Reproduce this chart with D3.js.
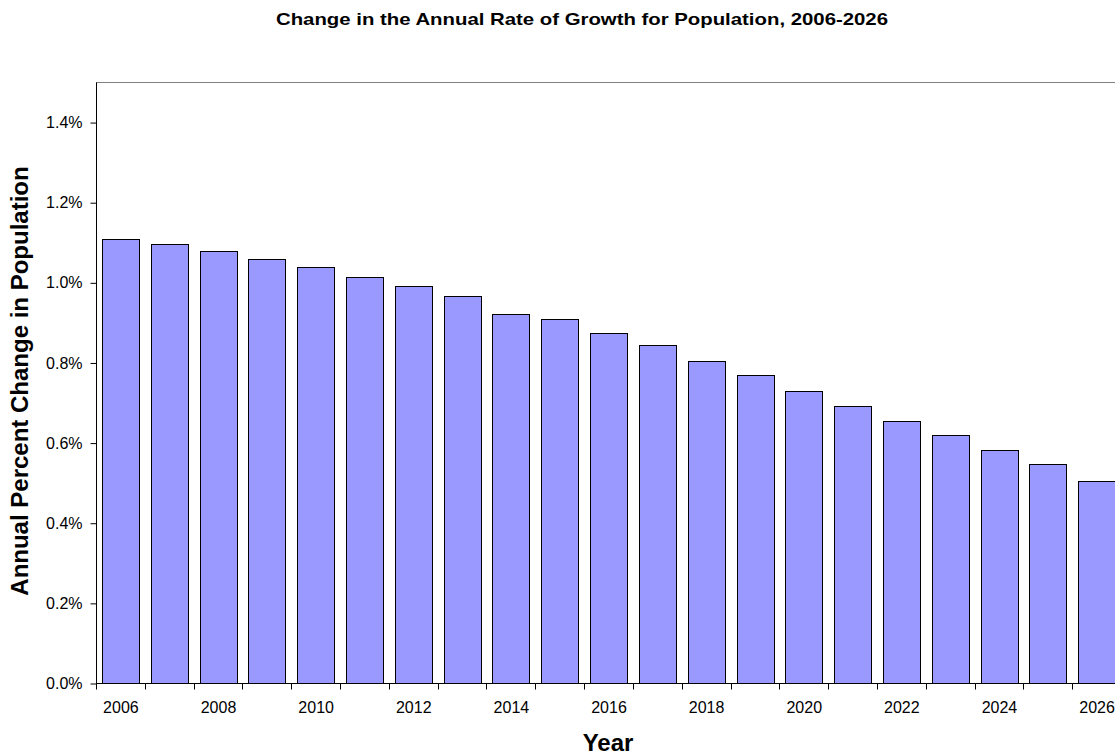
<!DOCTYPE html>
<html>
<head>
<meta charset="utf-8">
<script src="https://cdn.jsdelivr.net/npm/d3@7"></script>
<style>
  html, body { margin: 0; padding: 0; background: #fff; overflow: hidden; }
  svg { display: block; font-family: "Liberation Sans", Arial, sans-serif; }
</style>
</head>
<body>
<svg id="chart" width="1115" height="755"></svg>
<script>
const years = ["2006","2007","2008","2009","2010","2011","2012","2013","2014","2015","2016","2017","2018","2019","2020","2021","2022","2023","2024","2025","2026"];
const growth = [1.107, 1.096, 1.078, 1.059, 1.038, 1.0145, 0.992, 0.966, 0.922, 0.909, 0.874, 0.844, 0.803, 0.7675, 0.728, 0.691, 0.655, 0.620, 0.581, 0.546, 0.505];
const yTicks = [0, 0.2, 0.4, 0.6, 0.8, 1.0, 1.2, 1.4];
const xLabelYears = ["2006","2008","2010","2012","2014","2016","2018","2020","2022","2024","2026"];

const title = "Change in the Annual Rate of Growth for Population, 2006-2026";
const yTitle = "Annual Percent Change in Population";
const xTitle = "Year";

const svg = d3.select("#chart");
const x0 = 96, x1 = 1121, yTop = 82, yBot = 683;

const x = d3.scaleBand().domain(years).range([x0, x1]).paddingInner(0.245).paddingOuter(0.1225);
const xb = d3.scaleBand().domain(years).range([x0, x1]).padding(0);
const y = d3.scaleLinear().domain([0, 1.5]).range([yBot, yTop]);

// plot frame
svg.append("rect")
  .attr("x", x0 + 0.5).attr("y", yTop + 0.5)
  .attr("width", x1 - x0).attr("height", yBot - yTop)
  .attr("fill", "#fff").attr("stroke", "#808080").attr("stroke-width", 1);

// bars
svg.append("g").selectAll("rect").data(years).join("rect")
  .attr("x", (d) => Math.round(x(d)) + 0.5)
  .attr("y", (d, i) => Math.round(y(growth[i])) + 0.5)
  .attr("width", Math.round(x.bandwidth()))
  .attr("height", (d, i) => Math.round(yBot) - Math.round(y(growth[i])))
  .attr("fill", "#9999FF")
  .attr("stroke", "#000")
  .attr("stroke-width", 1);

// y axis
const yAxis = d3.axisLeft(y).tickValues(yTicks).tickSize(6).tickPadding(8)
  .tickFormat(d => d.toFixed(1) + "%");
const gy = svg.append("g").attr("transform", `translate(${x0 + 0.5},0.5)`).call(yAxis);
gy.select(".domain").attr("stroke", "#000").attr("d", `M0,${yTop}V${yBot}`);
gy.selectAll(".tick line").attr("stroke", "#000");
gy.selectAll(".tick text").attr("font-size", "16px").attr("fill", "#000")
  .attr("font-family", "'Liberation Sans', Arial, sans-serif");

// x axis: ticks at category boundaries
const boundaries = years.map(d => xb(d)).concat([x1]);
const gx = svg.append("g").attr("transform", `translate(0.5,${yBot + 0.5})`);
gx.append("path").attr("d", `M${x0},0H${x1}`).attr("stroke", "#000").attr("fill", "none");
gx.selectAll("line.t").data(boundaries).join("line").attr("class", "t")
  .attr("x1", d => Math.round(d)).attr("x2", d => Math.round(d))
  .attr("y1", 0).attr("y2", 6).attr("stroke", "#000");
gx.selectAll("text").data(xLabelYears).join("text")
  .attr("x", d => xb(d) + xb.bandwidth() / 2)
  .attr("y", 29)
  .attr("text-anchor", "middle")
  .attr("font-size", "16px")
  .text(d => d);

// title
svg.append("text").attr("x", 582).attr("y", 25).attr("text-anchor", "middle")
  .attr("font-size", "17px").attr("font-weight", "bold")
  .attr("textLength", 612).attr("lengthAdjust", "spacingAndGlyphs")
  .text(title);

// axis titles
svg.append("text").attr("x", 608).attr("y", 751).attr("text-anchor", "middle")
  .attr("font-size", "24px").attr("font-weight", "bold").text(xTitle);
svg.append("text").attr("transform", "translate(28,381) rotate(-90)")
  .attr("text-anchor", "middle")
  .attr("font-size", "24px").attr("font-weight", "bold").text(yTitle);
</script>
</body>
</html>
